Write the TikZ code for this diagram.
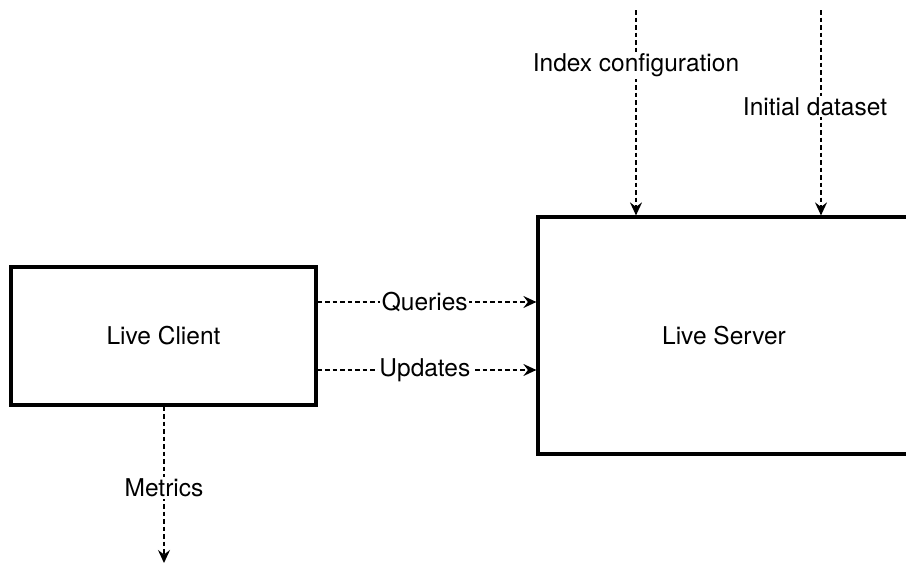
\documentclass[tikz,border=0pt]{standalone}
\usepackage{fontspec}
\setmainfont{TeX Gyre Heros}
\usetikzlibrary{arrows.meta}
\begin{document}
\begin{tikzpicture}[x=1pt,y=-1pt,
  font=\fontsize{24.5}{28}\selectfont,
  block/.style={draw=black,line width=3.2pt,fill=white,inner sep=0pt},
  flow/.style={draw=black,line width=1.5pt,dash pattern=on 4.5pt off 3pt,
    -{Stealth[length=13pt,width=12pt,inset=4.5pt]}},
  tag/.style={fill=white,inner sep=1.5pt,text=black}]
  \useasboundingbox (0,0) rectangle (906,565);

  % the two components
  \node[block,minimum width=305pt,minimum height=138pt] (client) at (163.5,336) {Live Client};
  \node[block,minimum width=372pt,minimum height=237pt] (server) at (724,335.5) {Live Server};

  % free ends of the open connectors
  \coordinate (cfg) at (636,10);
  \coordinate (data) at (821,10);
  \coordinate (out) at (164,563);

  % client to server
  \draw[flow] (client.east |- 0,302) -- (server.west |- 0,302)
    node[tag,pos=0.49] (q) {Queries};
  \draw[flow] (client.east |- 0,370) -- (server.west |- 0,370)
    node[tag,pos=0.49] (u) {Updates};

  % inputs into the server
  \draw[flow] (cfg) -- (server.north -| cfg)
    node[tag,pos=0.27] (ql) {Index configuration};
  \draw[flow] (data) -- (server.north -| data)
    node[tag,pos=0.47,xshift=-6pt] (dl) {Initial dataset};

  % output of the client
  \draw[flow] (client.south -| out) -- (out)
    node[tag,pos=0.52] (ml) {Metrics};
\end{tikzpicture}
\end{document}
